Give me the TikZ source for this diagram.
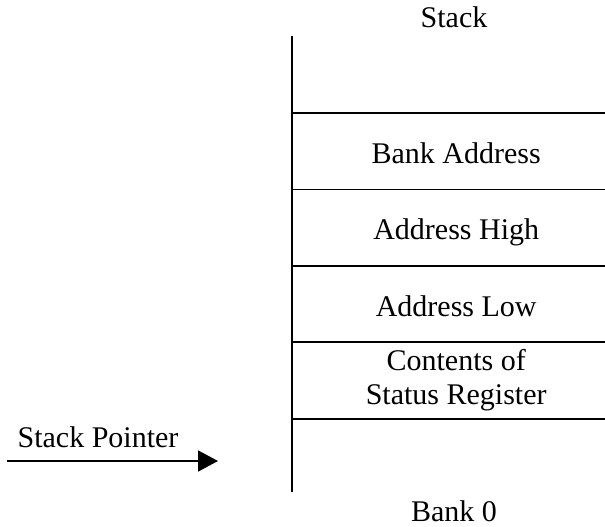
\documentclass[tikz,border=0pt]{standalone}
\usepackage{fontspec}
\setmainfont{Liberation Serif}
\usetikzlibrary{arrows.meta, positioning}

\begin{document}
\begin{tikzpicture}[x=1pt, y=1pt,
  cell/.style={rectangle, minimum width=328pt, minimum height=76pt, inner sep=0pt,
               text height=30pt, text depth=6pt,
               align=center, font=\fontsize{30}{34}\selectfont},
  lbl/.style={font=\fontsize{30}{34}\selectfont, anchor=base},
  ln/.style={line width=1.8pt},
  arr/.style={-{Triangle[length=20pt, width=21pt]}, line width=1.8pt}
]
\useasboundingbox (0,0) rectangle (605,-527);
\coordinate (vtop) at (292,-36);
\coordinate (vbot) at (292,-492);
\node[cell, anchor=north west] (c1) at (292,-113) {Bank Address};
\node[cell, below=0pt of c1] (c2) {Address High};
\node[cell, below=0pt of c2] (c3) {Address Low};
\node[cell, text height=, text depth=, below=0pt of c3] (c4) {Contents of\\Status Register};
\draw[ln] (vtop) -- (vbot);
\draw[ln] (c1.north west) -- (c1.north east);
\foreach \c in {c1, c2, c3, c4}
  \draw[ln] (\c.south west) -- (\c.south east);
\node[lbl] (stk) at (454,-28) {Stack};
\node[lbl] (bnk) at (454,-521) {Bank 0};
\node[lbl] (sp) at (98,-447) {Stack Pointer};
\coordinate (sptail) at (7,-461);
\coordinate (sphead) at (218,-461);
\draw[arr] (sptail) -- (sphead);
\end{tikzpicture}
\end{document}
